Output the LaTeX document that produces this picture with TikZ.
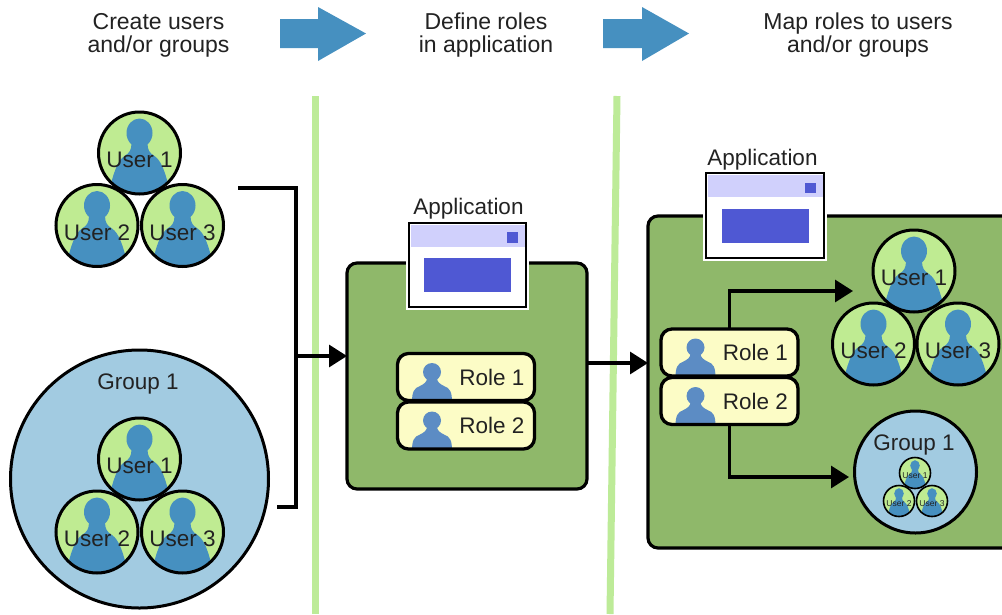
\documentclass[tikz,border=0pt]{standalone}
\usepackage{fontspec}
\setmainfont{Liberation Sans}
\usetikzlibrary{arrows.meta}
\definecolor{txt}{HTML}{222222}
\definecolor{panelgreen}{HTML}{8FB86A}
\definecolor{usergreen}{HTML}{BFEB92}
\definecolor{linegreen}{HTML}{BDEB98}
\definecolor{personblue}{HTML}{4690C0}
\definecolor{groupblue}{HTML}{A2CBE1}
\definecolor{roleyellow}{HTML}{FCFCC6}
\definecolor{roleperson}{HTML}{5C8CC4}
\definecolor{winbar}{HTML}{D0D0FC}
\definecolor{winblue}{HTML}{4F58D3}
\newcommand\personpath{%
  \fill[personblue] (0,-20) ellipse [x radius=13,y radius=14.5];
  \fill[personblue] (-8,-10) .. controls (-8,-3) and (-10,0) .. (-15,3)
     .. controls (-22,8) and (-25,18) .. (-29,32) -- (-36,60) -- (36,60) -- (29,32)
     .. controls (25,18) and (22,8) .. (15,3)
     .. controls (10,0) and (8,-3) .. (8,-10) -- cycle;
}
\newcommand\rolepath{%
  \fill[roleperson] (0,0) circle [radius=9];
  \fill[roleperson] (-5,6) .. controls (-5,10) and (-8,12) .. (-12,14)
     .. controls (-18,16) and (-20,20) .. (-20,30) -- (20,30)
     .. controls (20,20) and (18,16) .. (12,14)
     .. controls (8,12) and (5,10) .. (5,6) -- cycle;
}
% name, x, y, label
\newcommand\userbig[4]{%
  \fill[usergreen] (#2,#3) circle [radius=41];
  \begin{scope}
    \clip (#2,#3) circle [radius=41];
    \begin{scope}[shift={(#2,#3)}]\personpath\end{scope}
  \end{scope}
  \node[userring,minimum size=82pt] (#1) at (#2,#3) {};
  \node[lab] (#1t) at (#2,#3+7) {#4};
}
\newcommand\usersmall[4]{%
  \fill[usergreen] (#2,#3) circle [radius=15.5];
  \begin{scope}
    \clip (#2,#3) circle [radius=15.5];
    \begin{scope}[shift={(#2,#3)},scale=0.37]\personpath\end{scope}
  \end{scope}
  \node[userring,line width=1.6pt,minimum size=31pt] (#1) at (#2,#3) {};
  \node[font=\fontsize{8.5}{9}\selectfont] (#1t) at (#2,#3+2.6) {#4};
}
\newcommand\rolefig[4]{%
  \fill[roleyellow,rounded corners=11pt] (#2-68.5,#3-23.5) rectangle (#2+68.5,#3+23.5);
  \begin{scope}
    \clip[rounded corners=11pt] (#2-68.5,#3-23.5) rectangle (#2+68.5,#3+23.5);
    \begin{scope}[shift={(#2-34,#3-5)}]\rolepath\end{scope}
  \end{scope}
  \node[rolebox] (#1) at (#2,#3) {};
  \node[lab] (#1t) at (#2+26,#3) {#4};
}
% name, x, y, w, h
\newcommand\windowfig[5]{%
  \node[winbox,minimum width=#4,minimum height=#5] (#1) at (#2,#3) {};
  \fill[winbar] (#2-#4/2+1.5,#3-#5/2+1.5) rectangle (#2+#4/2-1.5,#3-#5/2+24);
  \fill[winblue] (#2-43.5,#3-7) rectangle (#2+43.5,#3+27);
  \fill[winblue] (#2+39.5,#3-33) rectangle (#2+50.5,#3-22.5);
}
\tikzset{
  x=1pt,y=-1pt,
  every node/.style={text=txt,inner sep=0pt,outer sep=0pt},
  lab/.style={font=\fontsize{22.5}{23}\selectfont},
  head/.style={font=\fontsize{23}{23}\selectfont,align=center},
  userring/.style={circle,draw=black,line width=3pt},
  groupcirc/.style={circle,draw=black,fill=groupblue,line width=3pt},
  panel/.style={draw=black,fill=panelgreen,line width=3.2pt,rounded corners=10pt},
  rolebox/.style={draw=black,line width=3.3pt,rounded corners=11pt,
    minimum width=137pt,minimum height=47pt},
  winbox/.style={draw=black,fill=white,line width=2.8pt,
    preaction={draw=white,line width=6pt}},
  greenline/.style={draw=linegreen,line width=7pt},
  conn/.style={draw=black,line width=3.2pt},
  connhead/.style={conn,-{Triangle[length=18pt,width=22pt]}},
}
\begin{document}
\begin{tikzpicture}
\useasboundingbox (0,0) rectangle (1002,614);
\fill[white] (0,0) rectangle (1002,614);

% header
\node[head] (h1) at (158.5,35) {Create users\\and/or groups};
\node[head] (h2) at (486,35) {Define roles\\in application};
\node[head] (h3) at (858,35) {Map roles to users\\and/or groups};
\fill[personblue] (280,19) -- (318,19) -- (318,7) -- (366,33.5) -- (318,61) -- (318,48) -- (280,48) -- cycle;
\fill[personblue] (603,19) -- (642,19) -- (642,7) -- (689,33.5) -- (642,61) -- (642,48) -- (603,48) -- cycle;

% separators
\coordinate (s1a) at (315.5,96); \coordinate (s1b) at (315.5,614);
\coordinate (s2a) at (617,96);   \coordinate (s2b) at (610,614);
\draw[greenline] (s1a) -- (s1b);
\draw[greenline] (s2a) -- (s2b);

% left column
\userbig{u1}{139.5}{153}{User 1}
\userbig{u2}{97}{225.5}{User 2}
\userbig{u3}{182.5}{225.5}{User 3}
\node[groupcirc,minimum size=258pt] (g) at (139.5,479) {};
\node[lab] (gt) at (138,383.5) {Group 1};
\userbig{gu1}{139.5}{459}{User 1}
\userbig{gu2}{97}{532}{User 2}
\userbig{gu3}{182.5}{532}{User 3}

% middle panel
\node[panel,minimum width=240pt,minimum height=226pt] (p1) at (467,376) {};
\node[lab] (a1) at (468.5,209) {Application};
\windowfig{w1}{467.5}{265}{117}{84}
\rolefig{r1}{466}{377}{Role 1}
\rolefig{r2}{466}{425.5}{Role 2}

% right panel
\node[panel,minimum width=372pt,minimum height=332pt] (p2) at (834,382) {};
\node[lab] (a2) at (762.5,159.5) {Application};
\windowfig{w2}{765}{215.5}{118}{85}
\rolefig{r3}{729.5}{352.5}{Role 1}
\rolefig{r4}{729.5}{401}{Role 2}
\userbig{mu1}{914}{271}{User 1}
\userbig{mu2}{873.5}{344}{User 2}
\userbig{mu3}{958}{344}{User 3}
\node[groupcirc,minimum size=122pt] (sg) at (915.5,472) {};
\node[lab] (sgt) at (914,445) {Group 1};
\usersmall{su1}{915}{473}{User 1}
\usersmall{su2}{899}{501}{User 2}
\usersmall{su3}{932}{501}{User 3}

% connectors
\coordinate (b1) at (238,188);
\coordinate (b2) at (277,507);
\coordinate (bc) at (296,356);
\draw[conn] (b1) -| (bc) |- (b2);
\draw[connhead] (bc) -- (p1.west |- bc);
\coordinate (m) at (587,363);
\draw[connhead] (p1.east |- m) -- (p2.west |- m);
\coordinate (t1) at (853,291);
\coordinate (t2) at (849,477);
\draw[connhead] (r3.north) |- (t1);
\draw[connhead] (r4.south) |- (t2);
\end{tikzpicture}
\end{document}
